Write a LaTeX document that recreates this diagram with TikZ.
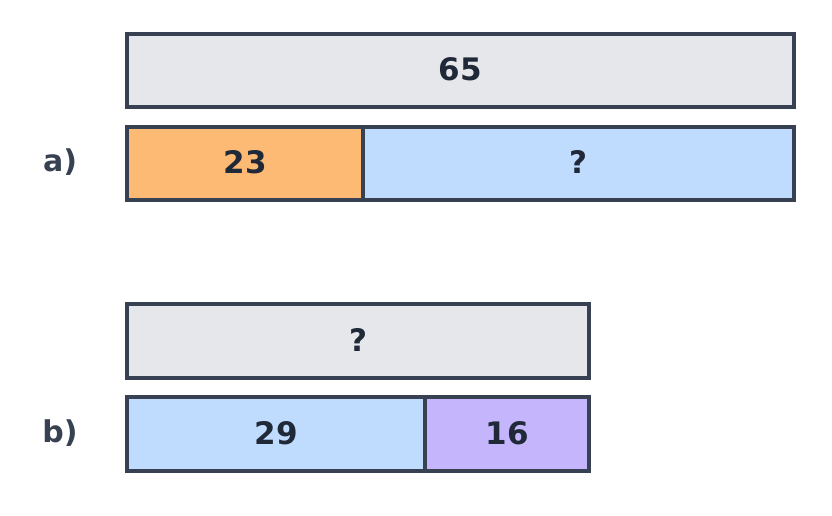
\documentclass[tikz,border=0pt]{standalone}
\usepackage{fontspec}
\setmainfont{DejaVu Sans}
\definecolor{edge}{HTML}{374151}
\definecolor{txt}{HTML}{1F2937}
\definecolor{grayf}{HTML}{E5E7EB}
\definecolor{orangef}{HTML}{FDBA74}
\definecolor{bluef}{HTML}{BFDBFE}
\definecolor{purplef}{HTML}{C4B5FD}
\tikzset{
  bar/.style={draw=edge, line width=3.3pt},
  num/.style={font=\fontsize{31}{37}\selectfont\bfseries, text=txt, inner sep=0pt},
  lab/.style={font=\fontsize{30}{36}\selectfont\bfseries, text=edge, inner sep=0pt},
}
\begin{document}
\begin{tikzpicture}[x=1pt,y=-1pt]
\useasboundingbox (0,0) rectangle (832,515);
% a)
\path[bar, fill=grayf] (127,34) rectangle (794,107);
\node[num] (a65) at (460.5,69) {65};
\path[bar, fill=orangef] (127,127) rectangle (363,200);
\node[num] (a23) at (245,162) {23};
\path[bar, fill=bluef] (363,127) rectangle (794,200);
\node[num] (aq) at (578.5,162) {?};
\node[lab] (la) at (60,162) {a)};
% b)
\path[bar, fill=grayf] (127,304) rectangle (589,378);
\node[num] (bq) at (358,340) {?};
\path[bar, fill=bluef] (127,397) rectangle (425,471);
\node[num] (b29) at (276,433) {29};
\path[bar, fill=purplef] (425,397) rectangle (589,471);
\node[num] (b16) at (507,433) {16};
\node[lab] (lb) at (60,433) {b)};
\end{tikzpicture}
\end{document}
